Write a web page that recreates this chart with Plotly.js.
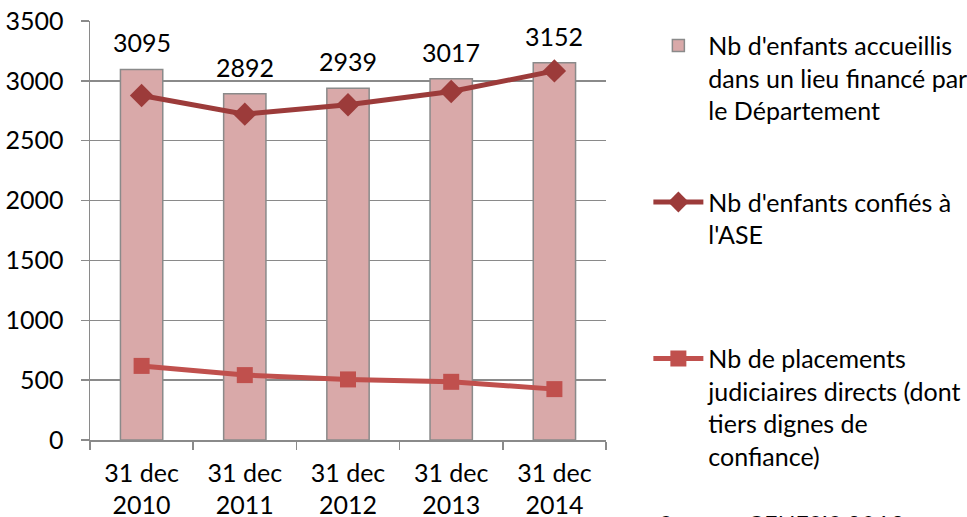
<!DOCTYPE html>
<html>
<head>
<meta charset="utf-8">
<script src="https://cdn.plot.ly/plotly-3.0.1.min.js"></script>
<style>
    body { margin: 0; background: #fff; }
    #chart { width: 967px; height: 517px; }
</style>
</head>
<body>
<div id="chart"></div>
<script>
const categories = ['31 dec 2010', '31 dec 2011', '31 dec 2012', '31 dec 2013', '31 dec 2014'];
const tickLabels = ['31 dec<br>2010', '31 dec<br>2011', '31 dec<br>2012', '31 dec<br>2013', '31 dec<br>2014'];
const accueillis = [3095, 2892, 2939, 3017, 3152];
const confies = [2878, 2722, 2800, 2911, 3083];
const placements = [619, 542, 506, 486, 425];

const nameBars = "Nb d'enfants accueillis<br>dans un lieu financé par<br>le Département";
const nameConfies = "Nb d'enfants confiés à<br>l'ASE<br> ";
const namePlacements = "Nb de placements<br>judiciaires directs (dont<br>tiers dignes de<br>confiance)";

const grey = '#8a8a8a';
const textFont = { family: 'Lato', size: 25, color: '#000' };

const traces = [
    {
        type: 'bar',
        x: categories,
        y: accueillis,
        name: nameBars,
        legendgroup: 'a',
        marker: { color: '#d9a9a9', line: { color: grey, width: 1.5 } },
    },
    {
        type: 'scatter',
        mode: 'lines+markers',
        x: categories,
        y: confies,
        name: nameConfies,
        legendgroup: 'b',
        line: { color: '#9c3b3a', width: 5 },
        marker: { symbol: 'diamond', size: 18, color: '#9c3b3a' },
    },
    {
        type: 'scatter',
        mode: 'lines+markers',
        x: categories,
        y: placements,
        name: namePlacements,
        legendgroup: 'c',
        line: { color: '#c0504d', width: 5 },
        marker: { symbol: 'square', size: 16, color: '#c0504d' },
    },
];

// value labels above the bars
const annotations = categories.map((c, i) => ({
    x: c,
    y: accueillis[i],
    text: String(accueillis[i]),
    showarrow: false,
    yanchor: 'middle',
    yshift: 27,
    font: textFont,
}));

annotations.push({
    xref: 'paper', yref: 'paper',
    x: 1.097, y: -0.16,
    xanchor: 'left', yanchor: 'top',
    text: '<i>Source : GENESIS 2013</i>',
    showarrow: false,
    font: textFont,
});

const layout = {
    width: 967,
    height: 517,
    margin: { l: 90, r: 361, t: 20.5, b: 76.5 },
    paper_bgcolor: '#fff',
    plot_bgcolor: '#fff',
    font: textFont,
    bargap: 0.59,
    showlegend: true,
    legend: {
        xref: 'container',
        yref: 'container',
        x: 0.6705,
        y: 0.956,
        xanchor: 'left',
        yanchor: 'top',
        traceorder: 'grouped',
        tracegroupgap: 56,
        valign: 'top',
        itemwidth: 50,
        maxheight: 1000,
        font: textFont,
        bgcolor: 'rgba(0,0,0,0)',
    },
    xaxis: {
        type: 'category',
        tickmode: 'array',
        tickvals: categories,
        ticktext: tickLabels,
        tickson: 'boundaries',
        ticks: 'outside',
        ticklen: 8,
        tickwidth: 1.5,
        tickcolor: grey,
        showline: true,
        linecolor: grey,
        linewidth: 1.5,
        showgrid: false,
        ticklabelstandoff: 10,
        tickfont: textFont,
    },
    yaxis: {
        range: [0, 3500],
        dtick: 500,
        ticks: 'outside',
        ticklen: 8,
        tickwidth: 1.5,
        tickcolor: grey,
        showline: true,
        linecolor: grey,
        linewidth: 1.5,
        gridcolor: grey,
        gridwidth: 1.5,
        zeroline: false,
        ticklabelstandoff: 12,
        tickfont: textFont,
    },
    annotations: annotations,
};

Plotly.newPlot('chart', traces, layout, { displayModeBar: false, staticPlot: true });
</script>
</body>
</html>
